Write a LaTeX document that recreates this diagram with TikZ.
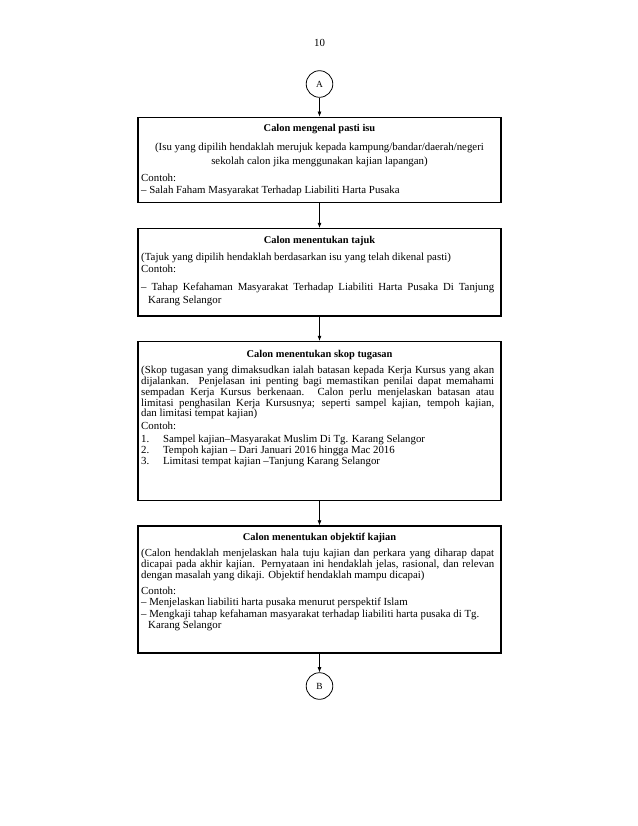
\documentclass[tikz,border=0pt]{standalone}
\usepackage{fontspec}
\setmainfont{Liberation Serif}
\usetikzlibrary{arrows.meta,fit}
\newcommand\jl[1]{\makebox[338.6pt][s]{#1}}
\newcommand\itm[2]{\makebox[21pt][l]{#1}#2}
\begin{document}
\begin{tikzpicture}[x=0.95925pt,y=-0.95925pt,
  boxst/.style={draw, line width=1pt, inner sep=0pt},
  conn/.style={line width=0.65pt, -{Latex[length=5pt,width=3.8pt]}},
  circ/.style={draw, circle, line width=0.75pt, minimum size=25.5pt, inner sep=0pt, font=\fontsize{9}{10}\selectfont},
  txt/.style={inner sep=0pt, anchor=base west, font=\fontsize{10.4}{12}\selectfont},
  ctr/.style={inner sep=0pt, anchor=base, font=\fontsize{10.4}{12}\selectfont},
  ttl/.style={inner sep=0pt, anchor=base, font=\fontsize{10}{12}\selectfont\bfseries},
]
\useasboundingbox (0,0) rectangle (638,826);
\fill[white] (0,0) rectangle (638,826);
\node[ctr] (pg) at (319.5,46) {10};
\node[circ] (A) at (319.5,84) {A};
\node[circ] (B) at (319.5,686) {B};
\node[boxst, fit={(138,117.3)(501,202.7)}] (b1) {};
\node[boxst, fit={(138,228.5)(501,316)}] (b2) {};
\node[boxst, fit={(138,341.5)(501,500.7)}] (b3) {};
\node[boxst, fit={(138,526)(501,653)}] (b4) {};
\draw[conn] (A) -- (b1);
\draw[conn] (b1) -- (b2);
\draw[conn] (b2) -- (b3);
\draw[conn] (b3) -- (b4);
\draw[conn] (b4) -- (B);
% box 1
\node[ttl] (t1a) at (319.5,131) {Calon mengenal pasti isu};
\node[ctr] (t1b) at (319.5,150.5) {(Isu yang dipilih hendaklah merujuk kepada kampung/bandar/daerah/negeri};
\node[ctr] (t1c) at (319.5,164) {sekolah calon jika menggunakan kajian lapangan)};
\node[txt] (t1d) at (141,181.5) {Contoh:};
\node[txt] (t1e) at (141,193) {– Salah Faham Masyarakat Terhadap Liabiliti Harta Pusaka};
% box 2
\node[ttl] (t2a) at (319.5,243) {Calon menentukan tajuk};
\node[txt] (t2b) at (141,260.3) {(Tajuk yang dipilih hendaklah berdasarkan isu yang telah dikenal pasti)};
\node[txt] (t2c) at (141,272.8) {Contoh:};
\node[txt] (t2d) at (141,290.3) {\jl{– Tahap Kefahaman Masyarakat Terhadap Liabiliti Harta Pusaka Di Tanjung}};
\node[txt] (t2e) at (148,303.5) {Karang Selangor};
% box 3
\node[ttl] (t3a) at (319.5,357) {Calon menentukan skop tugasan};
\node[txt] (t3b) at (141,373.5) {\jl{(Skop tugasan yang dimaksudkan ialah batasan kepada Kerja Kursus yang akan}};
\node[txt] (t3c) at (141,384.5) {\jl{dijalankan. Penjelasan ini penting bagi memastikan penilai dapat memahami}};
\node[txt] (t3d) at (141,395.3) {\jl{sempadan Kerja Kursus berkenaan. Calon perlu menjelaskan batasan atau}};
\node[txt] (t3e) at (141,406.1) {\jl{limitasi penghasilan Kerja Kursusnya; seperti sampel kajian, tempoh kajian,}};
\node[txt] (t3f) at (141,416.8) {dan limitasi tempat kajian)};
\node[txt] (t3g) at (141,429.8) {Contoh:};
\node[txt] (t3h) at (141,442.5) {\itm{1.}{Sampel kajian–Masyarakat Muslim Di Tg. Karang Selangor}};
\node[txt] (t3i) at (141,453.3) {\itm{2.}{Tempoh kajian – Dari Januari 2016 hingga Mac 2016}};
\node[txt] (t3j) at (141,464) {\itm{3.}{Limitasi tempat kajian –Tanjung Karang Selangor}};
% box 4
\node[ttl] (t4a) at (319.5,540.5) {Calon menentukan objektif kajian};
\node[txt] (t4b) at (141,556.8) {\jl{(Calon hendaklah menjelaskan hala tuju kajian dan perkara yang diharap dapat}};
\node[txt] (t4c) at (141,567.6) {\jl{dicapai pada akhir kajian. Pernyataan ini hendaklah jelas, rasional, dan relevan}};
\node[txt] (t4d) at (141,578.4) {dengan masalah yang dikaji. Objektif hendaklah mampu dicapai)};
\node[txt] (t4e) at (141,594.5) {Contoh:};
\node[txt] (t4f) at (141,605.5) {– Menjelaskan liabiliti harta pusaka menurut perspektif Islam};
\node[txt] (t4g) at (141,617) {– Mengkaji tahap kefahaman masyarakat terhadap liabiliti harta pusaka di Tg.};
\node[txt] (t4h) at (148,628.5) {Karang Selangor};
\end{tikzpicture}
\end{document}
